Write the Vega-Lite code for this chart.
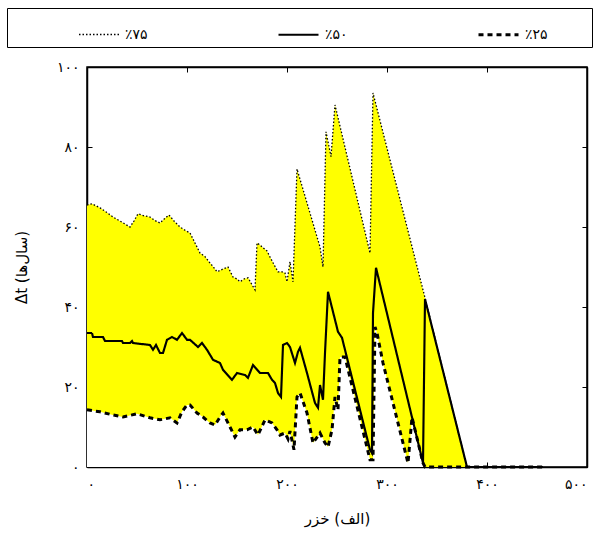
{
  "$schema": "https://vega.github.io/schema/vega-lite/v6.json",
  "width": 500,
  "height": 400,
  "autosize": {"type": "none"},
  "padding": {"left": 87, "top": 67, "right": 13, "bottom": 72},
  "background": "white",
  "config": {
    "font": "DejaVu Sans",
    "view": {"stroke": "black", "strokeWidth": 1.5},
    "axis": {
      "grid": false,
      "domainColor": "black",
      "domainWidth": 1.5,
      "tickColor": "black",
      "tickSize": -5,
      "labelColor": "black",
      "titleColor": "black",
      "labelFontSize": 14,
      "titleFontSize": 15,
      "titleFontWeight": "normal",
      "zindex": 1
    }
  },
  "data": {
    "values": [
      {"s": "٪۷۵", "x": 0, "y": 65.5}, {"s": "٪۷۵", "x": 5, "y": 65.8}, {"s": "٪۷۵", "x": 13, "y": 64.8}, {"s": "٪۷۵", "x": 20, "y": 63.6},
      {"s": "٪۷۵", "x": 26, "y": 62.5}, {"s": "٪۷۵", "x": 35, "y": 61.2}, {"s": "٪۷۵", "x": 43, "y": 60}, {"s": "٪۷۵", "x": 47, "y": 61.5},
      {"s": "٪۷۵", "x": 51, "y": 63.3}, {"s": "٪۷۵", "x": 57, "y": 62.8}, {"s": "٪۷۵", "x": 63, "y": 62.5}, {"s": "٪۷۵", "x": 68, "y": 61.6},
      {"s": "٪۷۵", "x": 73, "y": 61}, {"s": "٪۷۵", "x": 78, "y": 62.2}, {"s": "٪۷۵", "x": 82, "y": 63}, {"s": "٪۷۵", "x": 87, "y": 61.5},
      {"s": "٪۷۵", "x": 93, "y": 60}, {"s": "٪۷۵", "x": 98, "y": 59.2}, {"s": "٪۷۵", "x": 103, "y": 58.5}, {"s": "٪۷۵", "x": 108, "y": 56},
      {"s": "٪۷۵", "x": 113, "y": 53.5}, {"s": "٪۷۵", "x": 118, "y": 52.6}, {"s": "٪۷۵", "x": 123, "y": 51}, {"s": "٪۷۵", "x": 127, "y": 49.8},
      {"s": "٪۷۵", "x": 130, "y": 48.8}, {"s": "٪۷۵", "x": 136, "y": 49.5}, {"s": "٪۷۵", "x": 141, "y": 50}, {"s": "٪۷۵", "x": 146, "y": 47.5},
      {"s": "٪۷۵", "x": 150, "y": 47}, {"s": "٪۷۵", "x": 153, "y": 46.3}, {"s": "٪۷۵", "x": 157, "y": 47}, {"s": "٪۷۵", "x": 161, "y": 47.3},
      {"s": "٪۷۵", "x": 164, "y": 46}, {"s": "٪۷۵", "x": 168, "y": 44.3}, {"s": "٪۷۵", "x": 170, "y": 56}, {"s": "٪۷۵", "x": 173, "y": 55.5},
      {"s": "٪۷۵", "x": 176, "y": 54.8}, {"s": "٪۷۵", "x": 180, "y": 54}, {"s": "٪۷۵", "x": 183, "y": 52.5}, {"s": "٪۷۵", "x": 187, "y": 50.6},
      {"s": "٪۷۵", "x": 191, "y": 48.8}, {"s": "٪۷۵", "x": 195, "y": 48.8}, {"s": "٪۷۵", "x": 198, "y": 48.5}, {"s": "٪۷۵", "x": 200, "y": 46.3},
      {"s": "٪۷۵", "x": 203, "y": 51.3}, {"s": "٪۷۵", "x": 206, "y": 46.3}, {"s": "٪۷۵", "x": 210, "y": 74.5}, {"s": "٪۷۵", "x": 233, "y": 55},
      {"s": "٪۷۵", "x": 236, "y": 50}, {"s": "٪۷۵", "x": 239, "y": 83.8}, {"s": "٪۷۵", "x": 244, "y": 77.6}, {"s": "٪۷۵", "x": 248, "y": 90.5},
      {"s": "٪۷۵", "x": 283, "y": 53.5}, {"s": "٪۷۵", "x": 286, "y": 93.5}, {"s": "٪۷۵", "x": 338, "y": 42.3}, {"s": "٪۷۵", "x": 380, "y": 0},
      {"s": "٪۷۵", "x": 456, "y": 0},

      {"s": "٪۵۰", "x": 0, "y": 33.5}, {"s": "٪۵۰", "x": 5, "y": 33.5}, {"s": "٪۵۰", "x": 6, "y": 32.5}, {"s": "٪۵۰", "x": 16, "y": 32.5},
      {"s": "٪۵۰", "x": 18, "y": 31.5}, {"s": "٪۵۰", "x": 35, "y": 31.5}, {"s": "٪۵۰", "x": 36, "y": 31}, {"s": "٪۵۰", "x": 43, "y": 31},
      {"s": "٪۵۰", "x": 45, "y": 31.5}, {"s": "٪۵۰", "x": 46, "y": 31}, {"s": "٪۵۰", "x": 63, "y": 30.5}, {"s": "٪۵۰", "x": 66, "y": 29.3},
      {"s": "٪۵۰", "x": 69, "y": 30.5}, {"s": "٪۵۰", "x": 73, "y": 28.5}, {"s": "٪۵۰", "x": 76, "y": 28.5}, {"s": "٪۵۰", "x": 80, "y": 31.8},
      {"s": "٪۵۰", "x": 85, "y": 32.5}, {"s": "٪۵۰", "x": 90, "y": 31.8}, {"s": "٪۵۰", "x": 95, "y": 33.5}, {"s": "٪۵۰", "x": 100, "y": 31.8},
      {"s": "٪۵۰", "x": 103, "y": 31.8}, {"s": "٪۵۰", "x": 111, "y": 30}, {"s": "٪۵۰", "x": 115, "y": 31}, {"s": "٪۵۰", "x": 120, "y": 29.3},
      {"s": "٪۵۰", "x": 126, "y": 26.8}, {"s": "٪۵۰", "x": 133, "y": 26}, {"s": "٪۵۰", "x": 136, "y": 24.3}, {"s": "٪۵۰", "x": 145, "y": 21.8},
      {"s": "٪۵۰", "x": 150, "y": 23.5}, {"s": "٪۵۰", "x": 158, "y": 23}, {"s": "٪۵۰", "x": 161, "y": 22.3}, {"s": "٪۵۰", "x": 166, "y": 25.5},
      {"s": "٪۵۰", "x": 173, "y": 23.5}, {"s": "٪۵۰", "x": 181, "y": 23.5}, {"s": "٪۵۰", "x": 185, "y": 21.8}, {"s": "٪۵۰", "x": 188, "y": 21},
      {"s": "٪۵۰", "x": 191, "y": 18.5}, {"s": "٪۵۰", "x": 194, "y": 17.5}, {"s": "٪۵۰", "x": 196, "y": 30.5}, {"s": "٪۵۰", "x": 200, "y": 31},
      {"s": "٪۵۰", "x": 203, "y": 30}, {"s": "٪۵۰", "x": 208, "y": 26}, {"s": "٪۵۰", "x": 211, "y": 28.8}, {"s": "٪۵۰", "x": 213, "y": 29.8},
      {"s": "٪۵۰", "x": 220, "y": 23.5}, {"s": "٪۵۰", "x": 228, "y": 16}, {"s": "٪۵۰", "x": 231, "y": 14.8}, {"s": "٪۵۰", "x": 233, "y": 20.5},
      {"s": "٪۵۰", "x": 236, "y": 16.8}, {"s": "٪۵۰", "x": 238, "y": 28.5}, {"s": "٪۵۰", "x": 241, "y": 43.8}, {"s": "٪۵۰", "x": 251, "y": 33.8},
      {"s": "٪۵۰", "x": 255, "y": 32.3}, {"s": "٪۵۰", "x": 283, "y": 4.3}, {"s": "٪۵۰", "x": 285, "y": 3.5}, {"s": "٪۵۰", "x": 286, "y": 38.5},
      {"s": "٪۵۰", "x": 289, "y": 49.8}, {"s": "٪۵۰", "x": 336, "y": 1}, {"s": "٪۵۰", "x": 338, "y": 42}, {"s": "٪۵۰", "x": 380, "y": 0},
      {"s": "٪۵۰", "x": 456, "y": 0},

      {"s": "٪۲۵", "x": 0, "y": 14.3}, {"s": "٪۲۵", "x": 13, "y": 13.8}, {"s": "٪۲۵", "x": 26, "y": 13}, {"s": "٪۲۵", "x": 36, "y": 12.5},
      {"s": "٪۲۵", "x": 50, "y": 13.3}, {"s": "٪۲۵", "x": 63, "y": 12.3}, {"s": "٪۲۵", "x": 73, "y": 11.8}, {"s": "٪۲۵", "x": 83, "y": 12.3},
      {"s": "٪۲۵", "x": 90, "y": 11}, {"s": "٪۲۵", "x": 95, "y": 13.8}, {"s": "٪۲۵", "x": 100, "y": 15.5}, {"s": "٪۲۵", "x": 103, "y": 15.5},
      {"s": "٪۲۵", "x": 110, "y": 13.5}, {"s": "٪۲۵", "x": 116, "y": 12.5}, {"s": "٪۲۵", "x": 123, "y": 11}, {"s": "٪۲۵", "x": 128, "y": 10.5},
      {"s": "٪۲۵", "x": 133, "y": 12.5}, {"s": "٪۲۵", "x": 136, "y": 13.5}, {"s": "٪۲۵", "x": 143, "y": 10}, {"s": "٪۲۵", "x": 148, "y": 7.5},
      {"s": "٪۲۵", "x": 153, "y": 9.3}, {"s": "٪۲۵", "x": 160, "y": 9.3}, {"s": "٪۲۵", "x": 166, "y": 10}, {"s": "٪۲۵", "x": 171, "y": 8},
      {"s": "٪۲۵", "x": 178, "y": 11.8}, {"s": "٪۲۵", "x": 185, "y": 11}, {"s": "٪۲۵", "x": 190, "y": 9.3}, {"s": "٪۲۵", "x": 193, "y": 8},
      {"s": "٪۲۵", "x": 198, "y": 8.5}, {"s": "٪۲۵", "x": 201, "y": 7}, {"s": "٪۲۵", "x": 203, "y": 9}, {"s": "٪۲۵", "x": 207, "y": 4.3},
      {"s": "٪۲۵", "x": 210, "y": 17.5}, {"s": "٪۲۵", "x": 213, "y": 18.5}, {"s": "٪۲۵", "x": 220, "y": 13.5}, {"s": "٪۲۵", "x": 226, "y": 6},
      {"s": "٪۲۵", "x": 233, "y": 8.5}, {"s": "٪۲۵", "x": 238, "y": 6}, {"s": "٪۲۵", "x": 241, "y": 5}, {"s": "٪۲۵", "x": 245, "y": 9.3},
      {"s": "٪۲۵", "x": 248, "y": 17.5}, {"s": "٪۲۵", "x": 251, "y": 14.3}, {"s": "٪۲۵", "x": 253, "y": 27.5}, {"s": "٪۲۵", "x": 258, "y": 27.5},
      {"s": "٪۲۵", "x": 283, "y": 1.8}, {"s": "٪۲۵", "x": 286, "y": 1.8}, {"s": "٪۲۵", "x": 288, "y": 35}, {"s": "٪۲۵", "x": 290, "y": 33.5},
      {"s": "٪۲۵", "x": 296, "y": 26}, {"s": "٪۲۵", "x": 321, "y": 1}, {"s": "٪۲۵", "x": 325, "y": 12.4}, {"s": "٪۲۵", "x": 336, "y": 1},
      {"s": "٪۲۵", "x": 338, "y": 0}, {"s": "٪۲۵", "x": 380, "y": 0}, {"s": "٪۲۵", "x": 456, "y": 0}
    ]
  },
  "layer": [
    {
      "transform": [{"filter": "datum.s === '٪۷۵'"}],
      "mark": {"type": "area", "color": "#ffff00", "opacity": 1},
      "encoding": {
        "x": {"field": "x", "type": "quantitative", "scale": {"domain": [0, 500], "nice": false},
          "axis": {"orient": "top", "values": [0, 100, 200, 300, 400, 500], "labels": false, "title": null}},
        "y": {"field": "y", "type": "quantitative", "scale": {"domain": [0, 100], "nice": false},
          "axis": {"orient": "right", "values": [0, 20, 40, 60, 80, 100], "labels": false, "title": null}}
      }
    },
    {
      "transform": [{"filter": "datum.s === '٪۲۵'"}],
      "mark": {"type": "area", "color": "white", "opacity": 1},
      "encoding": {
        "x": {"field": "x", "type": "quantitative", "axis": null},
        "y": {"field": "y", "type": "quantitative", "axis": null}
      }
    },
    {
      "mark": {"type": "line", "color": "black"},
      "encoding": {
        "x": {"field": "x", "type": "quantitative",
          "axis": {"orient": "bottom", "values": [0, 100, 200, 300, 400, 500], "labelDx": -12, "labelPadding": 15,
            "labelExpr": "replace(replace(replace(replace(replace(replace(replace(replace(datum.label, regexp('0','g'), '۰'), regexp('1','g'), '۱'), regexp('2','g'), '۲'), regexp('3','g'), '۳'), regexp('4','g'), '۴'), regexp('5','g'), '۵'), regexp('6','g'), '۶'), regexp('8','g'), '۸')",
            "title": "\u200f(الف) خزر\u200f", "titlePadding": 20}},
        "y": {"field": "y", "type": "quantitative",
          "axis": {"orient": "left", "values": [0, 20, 40, 60, 80, 100], "labelPadding": 13,
            "labelExpr": "replace(replace(replace(replace(replace(replace(replace(replace(datum.label, regexp('0','g'), '۰'), regexp('1','g'), '۱'), regexp('2','g'), '۲'), regexp('3','g'), '۳'), regexp('4','g'), '۴'), regexp('5','g'), '۵'), regexp('6','g'), '۶'), regexp('8','g'), '۸')",
            "title": "Δt (سال\u200cها)", "titlePadding": 27}},
        "strokeDash": {"field": "s", "type": "nominal",
          "scale": {"domain": ["٪۷۵", "٪۵۰", "٪۲۵"], "range": [[1.5, 2], [1, 0], [5, 4]]},
          "legend": {"orient": "none", "legendX": -80, "legendY": -59, "direction": "horizontal",
            "title": " ", "titleOrient": "right", "titlePadding": 39, "padding": 5,
            "symbolType": "stroke", "symbolSize": 1600, "symbolStrokeColor": "black",
            "symbolOffset": 66, "labelOffset": 5,
            "labelFontSize": 14, "columnPadding": 63,
            "strokeColor": "black"}},
        "strokeWidth": {"field": "s", "type": "nominal",
          "scale": {"domain": ["٪۷۵", "٪۵۰", "٪۲۵"], "range": [1.3, 3, 1.8]},
          "legend": {"orient": "none", "legendX": -80, "legendY": -59, "direction": "horizontal",
            "title": " ", "titleOrient": "right", "titlePadding": 39, "padding": 5,
            "symbolType": "stroke", "symbolSize": 1600, "symbolStrokeColor": "black",
            "symbolOffset": 66, "labelOffset": 5,
            "labelFontSize": 14, "columnPadding": 63,
            "strokeColor": "black"}}
      }
    }
  ],
  "resolve": {"axis": {"x": "independent", "y": "independent"}}
}
